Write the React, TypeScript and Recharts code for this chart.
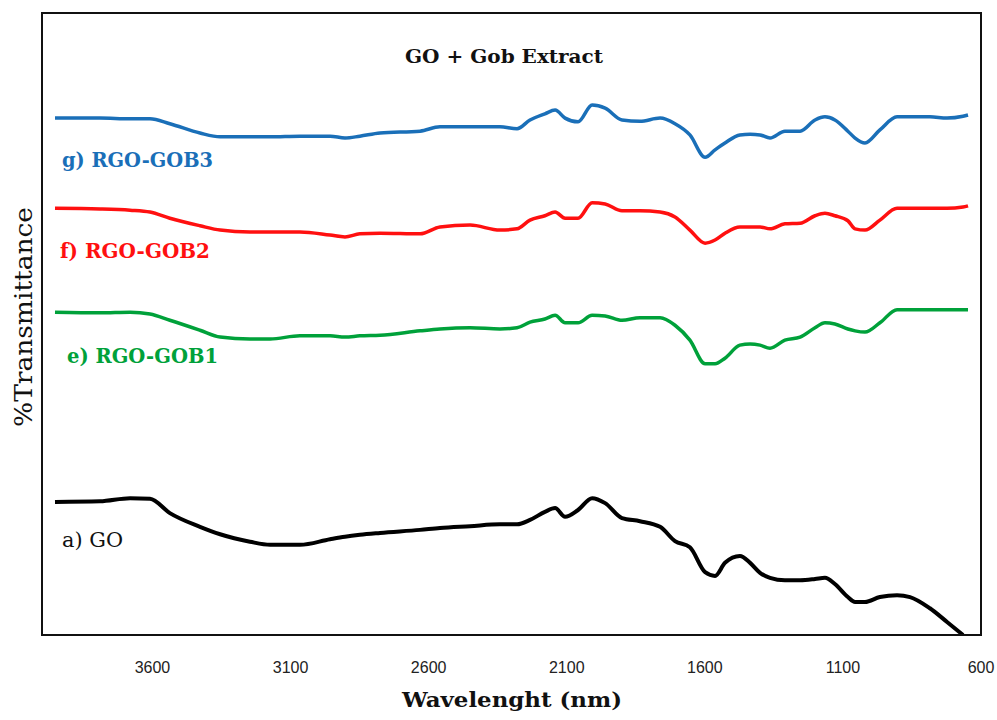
import React from "react";
import { LineChart, Line, XAxis, YAxis, ReferenceArea } from "recharts";

// Wavenumber grid (cm-1 / "nm" as labelled in the source)
const wavenumbers = [
  3953, 3790, 3681, 3609, 3537, 3428, 3355, 3247, 3174, 3066, 2957, 2903, 2849, 2776,
  2631, 2559, 2450, 2342, 2280, 2233, 2179, 2142, 2106, 2059, 2008, 1961, 1900, 1835,
  1762, 1708, 1654, 1599, 1563, 1527, 1473, 1436, 1400, 1364, 1310, 1255, 1201, 1165,
  1129, 1082, 1056, 1020, 966, 904, 857, 785, 723, 665, 647,
];

// g) RGO-GOB3 (blue)
const gob3 = [
  83.1, 83.1, 83.0, 83.0, 82.2, 80.7, 80.1, 80.1, 80.1, 80.2, 80.2, 79.9, 80.2, 80.7,
  81.0, 81.7, 81.7, 81.7, 81.4, 82.8, 83.8, 84.4, 83.1, 82.5, 85.2, 84.7, 82.8, 82.6,
  83.1, 82.2, 80.4, 76.8, 78.0, 79.1, 80.4, 80.5, 80.4, 79.9, 81.0, 81.0, 82.8, 83.3,
  82.8, 81.0, 79.9, 79.1, 81.2, 83.3, 83.3, 83.3, 83.1, 83.4, 83.6,
];

// f) RGO-GOB2 (red)
const gob2 = [
  68.6, 68.5, 68.3, 68.0, 67.0, 65.8, 65.1, 64.8, 64.8, 64.8, 64.3, 64.0, 64.5, 64.6,
  64.5, 65.6, 65.9, 65.1, 65.3, 66.7, 67.4, 68.0, 67.0, 67.0, 69.5, 69.3, 68.2, 68.2,
  68.0, 67.2, 65.1, 63.0, 63.5, 64.6, 65.6, 65.6, 65.6, 65.3, 66.1, 66.2, 67.4, 67.8,
  67.4, 66.6, 65.3, 65.1, 66.7, 68.6, 68.6, 68.6, 68.6, 68.8, 69.0,
];

// e) RGO-GOB1 (green)
const gob1 = [
  51.9, 51.8, 51.9, 51.6, 50.6, 49.0, 47.9, 47.6, 47.6, 48.1, 48.1, 47.9, 48.1, 48.2,
  48.9, 49.2, 49.4, 49.2, 49.4, 50.3, 50.8, 51.4, 50.2, 50.2, 51.4, 51.3, 50.6, 51.0,
  51.0, 49.8, 47.4, 43.6, 43.6, 44.5, 46.6, 46.8, 46.6, 46.1, 47.4, 47.9, 49.4, 50.2,
  50.0, 49.2, 48.9, 48.7, 50.2, 52.3, 52.3, 52.3, 52.3, 52.3, 52.3,
];

// a) GO (black)
const go = [
  21.4, 21.5, 22.0, 21.9, 19.6, 17.4, 16.2, 15.0, 14.5, 14.5, 15.4, 15.8, 16.1, 16.4,
  16.9, 17.2, 17.5, 17.8, 17.8, 18.5, 19.8, 20.4, 19.0, 20.1, 22.0, 21.2, 18.8, 18.3,
  17.4, 15.1, 14.1, 10.1, 9.5, 11.6, 12.7, 11.6, 10.0, 9.2, 8.8, 8.8, 9.0, 9.2,
  8.2, 6.1, 5.3, 5.3, 6.1, 6.4, 6.1, 4.3, 2.1, 0, null,
];

const xTicks = [3600, 3100, 2600, 2100, 1600, 1100, 600];

const seriesLabels = [
  { text: "g) RGO-GOB3", color: "#1a6fb8", x: 62, y: 167, len: 151, bold: true },
  { text: "f) RGO-GOB2", color: "#ff1010", x: 60, y: 258, len: 150, bold: true },
  { text: "e) RGO-GOB1", color: "#00a13a", x: 67, y: 363, len: 151, bold: true },
  { text: "a) GO", color: "#111111", x: 62, y: 547, len: 61, bold: false },
];

const data = wavenumbers.map((w, i) => ({
  w,
  g: gob3[i],
  f: gob2[i],
  e: gob1[i],
  a: go[i],
}));

const serif = "'DejaVu Serif', 'Liberation Serif', serif";

export default function App() {
  return (
    <div style={{ position: "absolute", left: 0, top: 0, width: 997, height: 720, background: "#fff" }}>
      <LineChart
        width={997}
        height={720}
        data={data}
        margin={{ top: 13, right: 16, left: 42, bottom: 45 }}
      >
        <XAxis
          dataKey="w"
          type="number"
          domain={[600, 4000]}
          reversed
          ticks={xTicks}
          allowDataOverflow
          height={40}
          tickLine={false}
          tickSize={0}
          tickMargin={27}
          axisLine={{ stroke: "#111", strokeWidth: 2 }}
          tick={{ fontFamily: "'Liberation Sans', Arial, sans-serif", fontSize: 16, fill: "#222" }}
        />
        <YAxis type="number" domain={[0, 100]} hide width={0} allowDataOverflow />
        <ReferenceArea x1={4000} x2={600} y1={0} y2={100} fill="none" stroke="#111" strokeWidth={2} ifOverflow="visible" />
        <Line dataKey="g" type="monotone" stroke="#1a6fb8" strokeWidth={3.5} dot={false} isAnimationActive={false} />
        <Line dataKey="f" type="monotone" stroke="#ff1010" strokeWidth={3.5} dot={false} isAnimationActive={false} />
        <Line dataKey="e" type="monotone" stroke="#00a13a" strokeWidth={3.5} dot={false} isAnimationActive={false} />
        <Line dataKey="a" type="monotone" stroke="#000" strokeWidth={4} dot={false} isAnimationActive={false} />
      </LineChart>
      <svg
        width={997}
        height={720}
        style={{ position: "absolute", left: 0, top: 0, pointerEvents: "none" }}
      >
        <text x={504} y={63} textAnchor="middle" fontFamily={serif} fontWeight="bold" fontSize={19} fill="#111" textLength={198} lengthAdjust="spacingAndGlyphs">
          GO + Gob Extract
        </text>
        {seriesLabels.map((s) => (
          <text key={s.text} x={s.x} y={s.y} fontFamily={serif} fontWeight={s.bold ? "bold" : "normal"} fontSize={20} fill={s.color} textLength={s.len} lengthAdjust="spacingAndGlyphs">
            {s.text}
          </text>
        ))}
        <text x={512} y={707} textAnchor="middle" fontFamily={serif} fontWeight="bold" fontSize={21} fill="#111" textLength={220} lengthAdjust="spacingAndGlyphs">
          Wavelenght (nm)
        </text>
        <text x={32} y={317} transform="rotate(-90 32 317)" textAnchor="middle" fontFamily={serif} fontSize={24} fill="#111" textLength={220} lengthAdjust="spacingAndGlyphs">
          %Transmittance
        </text>
      </svg>
    </div>
  );
}
